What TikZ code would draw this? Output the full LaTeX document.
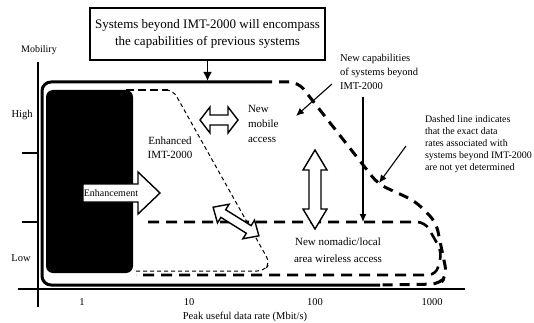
\documentclass[tikz,border=0pt]{standalone}
\usepackage{fontspec}
\setmainfont{Liberation Serif}
\usetikzlibrary{arrows.meta}
\begin{document}
\begin{tikzpicture}[x=1pt,y=-1pt,
  lbl/.style={inner sep=0pt, outer sep=0pt},
  axisline/.style={line width=1.8pt},
  outerline/.style={line width=3pt},
  outerdash/.style={line width=3pt, dash pattern=on 10pt off 7pt},
  nomadicdash/.style={line width=2.6pt, dash pattern=on 11pt off 7pt},
  thindash/.style={line width=1pt, dash pattern=on 4pt off 3pt},
  topdash/.style={line width=2pt, dash pattern=on 8pt off 4pt},
  blockarrow/.style={draw, line width=1.4pt, fill=white, line join=miter},
  thinarrow/.style={line width=1.1pt, -{Latex[length=8pt,width=7pt]}},
]
\fill[white] (0,0) rectangle (534,323);
\useasboundingbox (0,0) rectangle (534,323);

% ---------- axes ----------
\coordinate (yaxtop) at (38,62);
\coordinate (yaxbot) at (38,307);
\coordinate (xaxl) at (18,289);
\coordinate (xaxr) at (465,289);
\draw[axisline] (yaxtop) -- (yaxbot);
\draw[axisline] (xaxl) -- (xaxr);
\coordinate (tha) at (22,153); \coordinate (thb) at (38,153);
\coordinate (tla) at (22,222); \coordinate (tlb) at (38,222);
\draw[axisline] (tha) -- (thb);
\draw[axisline] (tla) -- (tlb);

\node[lbl, font=\fontsize{10}{12}\selectfont] (mob) at (39,50) {Mobiliry};
\node[lbl, font=\fontsize{10.5}{12}\selectfont] (high) at (22,115) {High};
\node[lbl, font=\fontsize{10.5}{12}\selectfont] (low) at (21,258) {Low};
\node[lbl, font=\fontsize{10.5}{12}\selectfont] (x1) at (82,302) {1};
\node[lbl, font=\fontsize{10.5}{12}\selectfont] (x10) at (189,302) {10};
\node[lbl, font=\fontsize{10.5}{12}\selectfont] (x100) at (315,302) {100};
\node[lbl, font=\fontsize{10.5}{12}\selectfont] (x1000) at (432,302) {1000};
\node[lbl, font=\fontsize{10.5}{12}\selectfont] (xtitle) at (245,317) {Peak useful data rate (Mbit/s)};

% ---------- outer envelope (systems beyond IMT-2000) ----------
\draw[outerline, rounded corners=9pt] (262,82) -- (42,82) -- (42,285) -- (380,285);
\draw[outerdash, rounded corners=9pt] (262,82) -- (298,82) -- (378,184) -- (415,201)
      -- (436,222) -- (447,275) -- (440,284) -- (380,285);

% ---------- enhanced IMT-2000 region ----------
\draw[topdash] (126,90) -- (168,90);
\draw[thindash, rounded corners=7pt] (166,90) -- (173,90) -- (270,263) -- (264,271) -- (136,271);

% ---------- nomadic / local area region ----------
\draw[nomadicdash, rounded corners=8pt] (148,222) -- (425,222) -- (442,252) -- (436,275) -- (136,275);

% ---------- IMT-2000 black block ----------
\fill[rounded corners=7pt] (46,90) rectangle (133,273);

% ---------- block arrows ----------
\draw[blockarrow] (83,184) -- (138,184) -- (138,172) -- (160,193) -- (138,214) -- (138,202) -- (83,202) -- cycle;
\node[lbl, font=\fontsize{10}{12}\selectfont] (enh) at (111,193) {Enhancement};

\draw[blockarrow] (200,120) -- (210,107) -- (210,115) -- (228,115) -- (228,107) -- (238,120)
      -- (228,133) -- (228,125) -- (210,125) -- (210,133) -- cycle;

\draw[blockarrow] (315,150) -- (327,170) -- (321,170) -- (321,209) -- (327,209) -- (315,229)
      -- (303,209) -- (309,209) -- (309,170) -- (303,170) -- cycle;

\begin{scope}[shift={(236,221.5)}, rotate=-32]
\draw[blockarrow] (-27,0) -- (-15,-11) -- (-15,-4.5) -- (15,-4.5) -- (15,-11) -- (27,0)
      -- (15,11) -- (15,4.5) -- (-15,4.5) -- (-15,11) -- cycle;
\end{scope}

% ---------- texts ----------
\node[lbl, draw, line width=1.5pt, minimum width=235pt, minimum height=52pt, align=center,
      font=\fontsize{13}{17}\selectfont] (box) at (207.5,34)
      {Systems beyond IMT-2000 will encompass\\the capabilities of previous systems};
\coordinate (boxtip) at (207.5,81);
\draw[line width=1.6pt, -{Latex[length=9pt,width=9pt]}] (box.south) -- (boxtip);

\node[lbl, align=center, font=\fontsize{11}{14}\selectfont] (enhimt) at (170,148) {Enhanced\\IMT-2000};
\node[lbl, anchor=north west, align=left, font=\fontsize{11}{15}\selectfont] (mobacc) at (248,105) {New\\mobile\\access};
\node[lbl, align=center, font=\fontsize{11}{17}\selectfont] (nomad) at (338,250) {New nomadic/local\\area wireless access};
\node[lbl, anchor=north west, align=left, font=\fontsize{10.5}{14}\selectfont] (cap) at (340,54) {New capabilities\\of systems beyond\\IMT-2000};
\node[lbl, anchor=north west, align=left, font=\fontsize{10}{12}\selectfont] (dash) at (425,116)
      {Dashed line indicates\\that the exact data\\rates associated with\\systems beyond IMT-2000\\are not yet determined};

% ---------- thin arrows ----------
\coordinate (capv) at (363,97);
\coordinate (capvend) at (363,222);
\draw[thinarrow] (capv) -- (capvend);
\coordinate (capd) at (332,84);
\coordinate (mobtip) at (296,116);
\draw[thinarrow] (capd) -- (mobtip);
\coordinate (dashs) at (406,146);
\coordinate (dashtip) at (379,183);
\draw[thinarrow] (dashs) -- (dashtip);
\end{tikzpicture}
\end{document}
